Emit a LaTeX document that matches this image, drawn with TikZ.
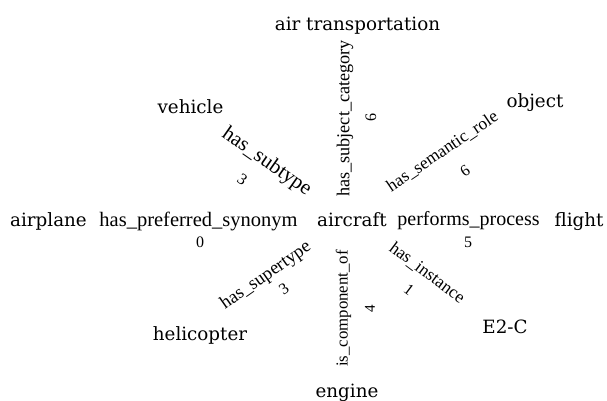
\documentclass[tikz,border=0pt]{standalone}
\usepackage{fontspec}
\setmainfont{DejaVu Serif}
\newfontfamily\elfont{Liberation Serif}
\begin{document}
\begin{tikzpicture}[x=1pt,y=-1pt,
  nl/.style={inner sep=0pt, anchor=base, font=\fontsize{18.3}{20}\selectfont},
  el/.style={inner sep=0pt, font=\elfont\fontsize{#1}{#1}\selectfont},
  en/.style={inner sep=0pt, font=\elfont\fontsize{#1}{#1}\selectfont}]
\useasboundingbox (0,0) rectangle (607,400);
% concept nodes
\node[nl] (aircraft) at (352,226) {aircraft};
\node[nl] (airtrans) at (357.5,30) {air transportation};
\node[nl] (vehicle) at (190.5,113) {vehicle};
\node[nl] (object) at (535,107) {object};
\node[nl] (airplane) at (48.5,226) {airplane};
\node[nl] (flight) at (579,226) {flight};
\node[nl] (helicopter) at (200,340) {helicopter};
\node[nl] (e2c) at (505,333) {E2-C};
\node[nl] (engine) at (347,397) {engine};
% relation labels
\node[el=20.5] (l1) at (198.5,221) {has\_preferred\_synonym};
\node[en=16] (n1) at (200,242) {0};
\node[el=20] (l2) at (468.5,221) {performs\_process};
\node[en=16] (n2) at (468,242) {5};
\node[el=18.2, rotate=90] (l3) at (345,118.5) {has\_subject\_category};
\node[en=16, rotate=90] (n3) at (371,117) {6};
\node[el=16.8, rotate=90] (l4) at (343.5,308.5) {is\_component\_of};
\node[en=15, rotate=90] (n4) at (370,308.5) {4};
\node[el=21, rotate=-35] (l5) at (266.5,162) {has\_subtype};
\node[en=16, rotate=-35] (n5) at (242.5,180) {3};
\node[el=17.5, rotate=34] (l6) at (442.5,151.5) {has\_semantic\_role};
\node[en=16, rotate=34] (n6) at (465,171) {6};
\node[el=18.5, rotate=35] (l7) at (266,276) {has\_supertype};
\node[en=16, rotate=35] (n7) at (284,289) {3};
\node[el=17.5, rotate=-37] (l8) at (427,273) {has\_instance};
\node[en=16, rotate=-37] (n8) at (409,290) {1};
\end{tikzpicture}
\end{document}
